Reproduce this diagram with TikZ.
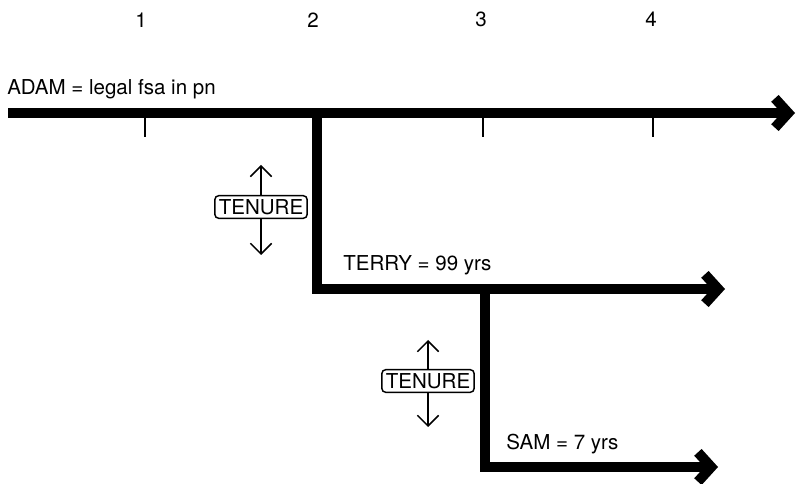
\documentclass[tikz,border=0pt]{standalone}
\usepackage{fontspec}
\setmainfont{TeX Gyre Heros}
\usetikzlibrary{arrows.meta}

\begin{document}
\begin{tikzpicture}[x=0.75pt, y=-0.75pt,
  every node/.style={font=\fontsize{15.4}{18}\selectfont, inner sep=0pt},
  estate/.style={line width=7.5pt, -{Straight Barb[length=10pt, width=22pt]}},
  tickmark/.style={line width=1.5pt},
  tenurebox/.style={draw, fill=white, line width=1.1pt, rounded corners=3pt,
    inner xsep=3pt, inner ysep=3pt, text height=11pt, text depth=0pt},
  tenurearrow/.style={line width=1.1pt, -{Straight Barb[length=8pt, width=16pt]}}]
  \useasboundingbox (0,0) rectangle (796,484);

  % Time marks
  \node[anchor=base] (t1) at (141,28) {1};
  \node[anchor=base] (t2) at (313,28) {2};
  \node[anchor=base] (t3) at (481,27) {3};
  \node[anchor=base] (t4) at (651,27) {4};

  % Points on the lines
  \coordinate (adamstart) at (8,113);
  \coordinate (adamend) at (795,113);
  \coordinate (terrytop) at (317,113);
  \coordinate (terrycorner) at (317,289);
  \coordinate (terryend) at (725,289);
  \coordinate (samtop) at (485,289);
  \coordinate (samcorner) at (485,467);
  \coordinate (samend) at (718,467);

  % Ticks under Adam's line
  \foreach \x in {145,483,653} {
    \draw[tickmark] (\x,113) -- (\x,137);
  }

  % Estates
  \draw[estate] (adamstart) -- (adamend);
  \draw[estate] (terrytop) -- (terrycorner) -- (terryend);
  \draw[estate] (samtop) -- (samcorner) -- (samend);

  % Labels
  \node[anchor=base west] (adam) at (7,95) {ADAM = legal fsa in pn};
  \node[anchor=base west] (terry) at (343,271) {TERRY = 99 yrs};
  \node[anchor=base west] (sam) at (506,450) {SAM = 7 yrs};

  % Tenure boxes
  \node[tenurebox] (tenure1) at (261,207) {TENURE};
  \coordinate (up1) at (261,165);
  \coordinate (down1) at (261,255);
  \draw[tenurearrow] (tenure1) -- (up1);
  \draw[tenurearrow] (tenure1) -- (down1);

  \node[tenurebox] (tenure2) at (428,381) {TENURE};
  \coordinate (up2) at (428,340);
  \coordinate (down2) at (428,427);
  \draw[tenurearrow] (tenure2) -- (up2);
  \draw[tenurearrow] (tenure2) -- (down2);
\end{tikzpicture}
\end{document}
